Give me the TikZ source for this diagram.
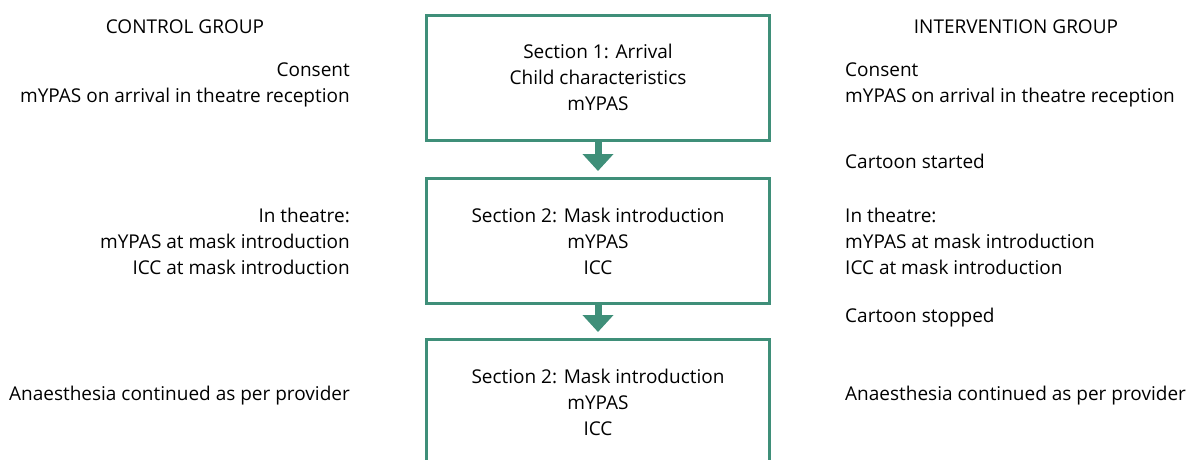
\documentclass[tikz,border=0pt]{standalone}
\usepackage{fontspec}
\setmainfont{Open Sans}
\usetikzlibrary{arrows.meta,positioning}
\definecolor{flowgreen}{HTML}{3F8F79}

\begin{document}
\begin{tikzpicture}[
        x=1pt, y=-1pt,
        every node/.style={font=\fontsize{19}{26}\selectfont, inner sep=0pt},
        section/.style={draw=flowgreen, line width=3pt, align=center, minimum width=343pt, minimum height=125pt},
        sidel/.style={anchor=east, align=right},
        sider/.style={anchor=west, align=left},
        flow/.style={draw=flowgreen, line width=7pt, -{Triangle[width=30pt, length=17pt]}, shorten >=6pt}
    ]
    \useasboundingbox (0,0) rectangle (1186,459);
    \clip (0,0) rectangle (1186,459);

    % Nodes
    \node (sec1) [section] at (598,77.5) {Section 1: Arrival \\ Child characteristics \\ mYPAS};
    \node (sec2) [section] at (598,241) {Section 2: Mask introduction \\ mYPAS \\ ICC};
    \node (sec3) [section] at (598,402) {Section 2: Mask introduction \\ mYPAS \\ ICC};

    \node (ctrl) at (185,27) {CONTROL GROUP};
    \node (ctrl1) [sidel] at (350,85) {Consent \\ mYPAS on arrival in theatre reception};
    \node (ctrl2) [sidel] at (350,241) {In theatre: \\ mYPAS at mask introduction \\ ICC at mask introduction};
    \node (ctrl3) [sidel] at (350,396) {Anaesthesia continued as per provider};

    \node (intv) at (1016,27) {INTERVENTION GROUP};
    \node (intv1) [sider] at (845,85) {Consent \\ mYPAS on arrival in theatre reception};
    \node (start) [sider] at (845,161) {Cartoon started};
    \node (intv2) [sider] at (845,241) {In theatre: \\ mYPAS at mask introduction \\ ICC at mask introduction};
    \node (stop) [sider] at (845,318) {Cartoon stopped};
    \node (intv3) [sider] at (845,396) {Anaesthesia continued as per provider};

    % Edges
    \draw[flow] (sec1) -- (sec2);
    \draw[flow] (sec2) -- (sec3);
\end{tikzpicture}
\end{document}
